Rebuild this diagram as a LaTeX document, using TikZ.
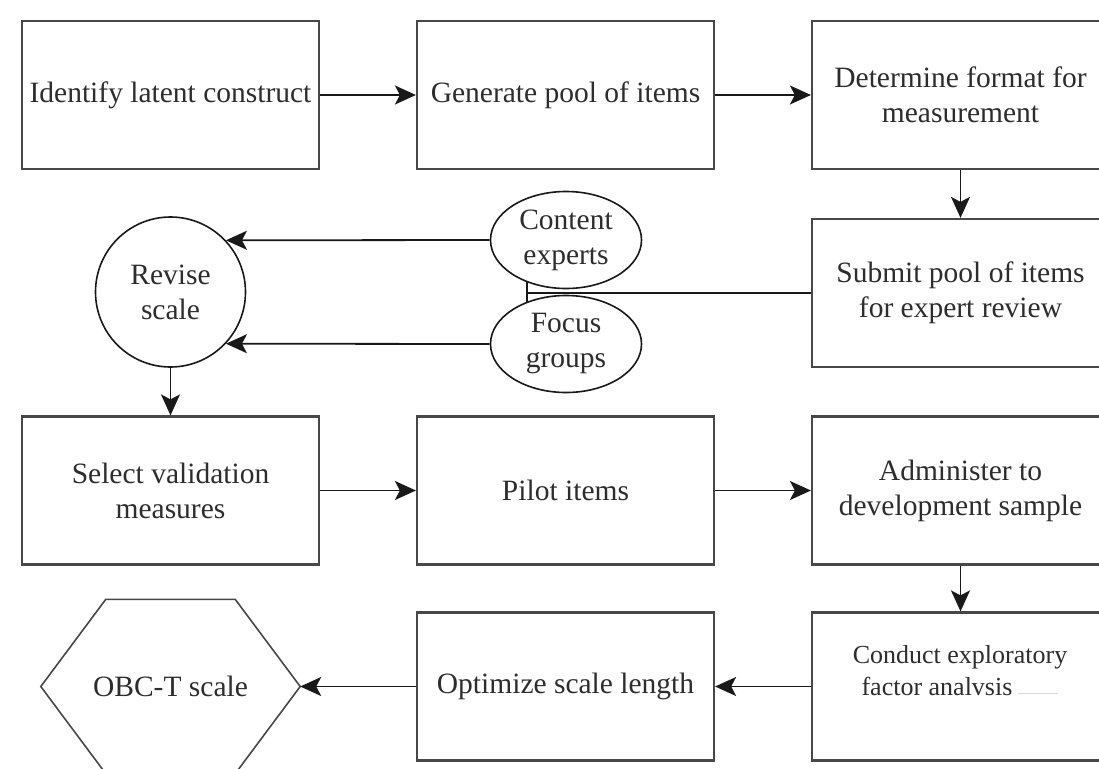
\documentclass[tikz,border=0pt]{standalone}
\usepackage{fontspec}
\setmainfont{Liberation Serif}
\usetikzlibrary{shapes.geometric,arrows.meta,calc}
\definecolor{boxc}{RGB}{72,72,72}
\definecolor{linec}{RGB}{25,25,25}
\definecolor{txtc}{RGB}{45,45,45}
\begin{document}
\begin{tikzpicture}[x=1pt,y=-1pt,
  box/.style={draw=boxc, line width=2.2pt, minimum width=297pt, minimum height=148pt,
    inner sep=0pt, align=center, text=txtc, font=\fontsize{29.5}{35}\selectfont},
  oval/.style={draw=linec, line width=1.6pt, ellipse, minimum width=151pt, minimum height=97pt,
    inner sep=0pt, align=center, text=txtc, font=\fontsize{29.5}{35}\selectfont},
  roundnode/.style={draw=linec, line width=1.6pt, circle, minimum size=150pt,
    inner sep=0pt, align=center, text=txtc, font=\fontsize{29.5}{35}\selectfont},
  arr/.style={draw=linec, line width=1.8pt, -{Stealth[length=21pt,width=19pt,inset=5pt]}},
  plain/.style={draw=linec, line width=1.8pt}
]
\useasboundingbox[fill=white] (0,0) rectangle (1099,768);

% row 1
\node[box] (b1) at (170.5,95) {Identify latent construct};
\node[box] (b2) at (565.5,95) {Generate pool of items};
\node[box] (b3) at (960.5,95) {Determine format for\\measurement};
% row 2
\node[box] (b4) at (960.5,293) {Submit pool of items\\for expert review};
\node[oval] (ce) at (566,240) {Content\\experts};
\node[oval] (fg) at (566,344) {Focus\\groups};
\node[roundnode] (rev) at (170.5,292) {Revise\\scale};
\coordinate (j) at (528,293);
% row 3
\node[box] (b5) at (170.5,490.5) {Select validation\\measures};
\node[box] (b6) at (565.5,490.5) {Pilot items};
\node[box] (b7) at (960.5,490.5) {Administer to\\development sample};
% row 4
\node[box] (b8) at (960.5,686.5) {};
\node[align=center, text=txtc, font=\fontsize{26}{32}\selectfont] (b8t) at (960,671)
  {Conduct exploratory\\factor analvsis\hspace{6pt}{\color{black!15}\rule[2pt]{40pt}{1pt}}};
\node[box] (b9) at (565.5,686.5) {Optimize scale length};
\node[minimum width=259pt, minimum height=174pt, inner sep=0pt, text=txtc,
  font=\fontsize{29.5}{35}\selectfont] (hex) at (170.5,686.5) {OBC-T scale};
\draw[draw=boxc, line width=1.6pt, line join=miter]
  (hex.west) -- ([xshift=65pt]hex.north west) -- ([xshift=-65pt]hex.north east)
  -- (hex.east) -- ([xshift=-65pt]hex.south east) -- ([xshift=65pt]hex.south west) -- cycle;

% connectors
\draw[arr] (b1.east) -- (b2.west);
\draw[arr] (b2.east) -- (b3.west);
\draw[arr] (b3.south) -- (b4.north);
\draw[plain] (b4.west) -- (j);
\draw[plain] (ce.227) -- (fg.133);
\draw[arr] (ce.west) -- (rev.43.9);
\draw[arr] (fg.west) -- (rev.-43.9);
\draw[arr] (rev.south) -- (b5.north);
\draw[arr] (b5.east) -- (b6.west);
\draw[arr] (b6.east) -- (b7.west);
\draw[arr] (b7.south) -- (b8.north);
\draw[arr] (b8.west) -- (b9.east);
\draw[arr] (b9.west) -- (hex.east);
\end{tikzpicture}
\end{document}
